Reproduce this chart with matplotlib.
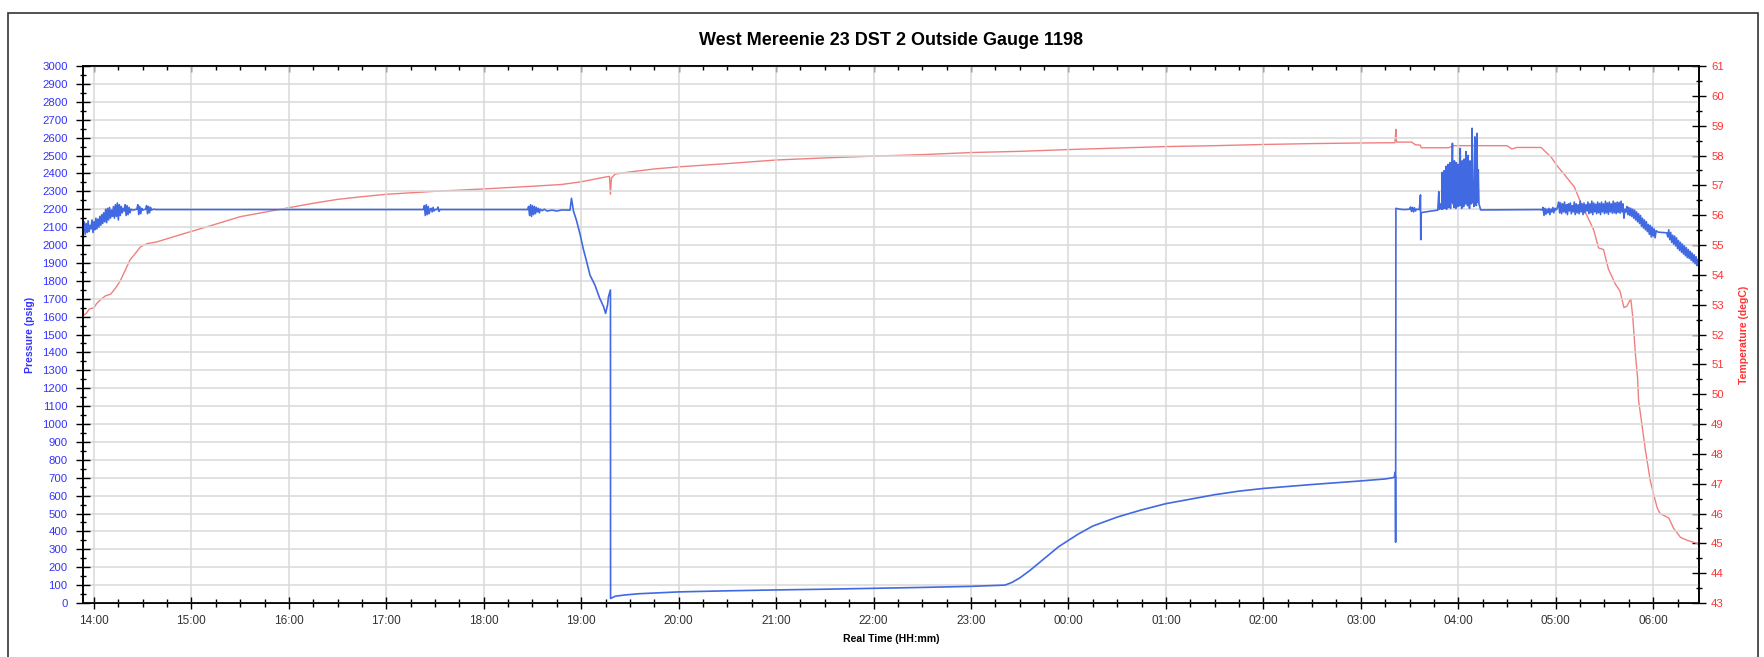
import matplotlib
matplotlib.use("Agg")
import matplotlib.pyplot as plt
from matplotlib.ticker import MultipleLocator, FixedLocator
from matplotlib.patches import Rectangle

plt.rcParams['font.family'] = ['Liberation Sans', 'DejaVu Sans']

# time axis: hours after 14:00
hour_labels = ["14:00", "15:00", "16:00", "17:00", "18:00", "19:00", "20:00", "21:00",
               "22:00", "23:00", "00:00", "01:00", "02:00", "03:00", "04:00", "05:00", "06:00"]

# pressure (psig)
press_t = [
    -0.11, -0.10, -0.09, -0.08, -0.07, -0.06, -0.05, -0.04, -0.03, -0.02, -0.01, 0.00,
    0.01, 0.02, 0.03, 0.04, 0.05, 0.06, 0.07, 0.08, 0.09, 0.10, 0.11, 0.12, 0.13, 0.14,
    0.15, 0.16, 0.17, 0.18, 0.19, 0.20, 0.21, 0.22, 0.23, 0.24, 0.25, 0.26, 0.27, 0.28,
    0.29, 0.30, 0.31, 0.32, 0.33, 0.34, 0.35, 0.36, 0.37, 0.38, 0.40, 0.44, 0.45, 0.46,
    0.47, 0.48, 0.49, 0.50, 0.53, 0.54, 0.55, 0.56, 0.57, 0.58, 0.59, 0.61, 0.64,
    3.38, 3.39, 3.40, 3.41, 3.42, 3.43, 3.44, 3.45, 3.46, 3.47, 3.48, 3.49, 3.50, 3.52,
    3.53, 3.54, 3.55,
    4.45, 4.46, 4.47, 4.48, 4.49, 4.50, 4.51, 4.52, 4.53, 4.54, 4.55, 4.56, 4.57, 4.58,
    4.60, 4.62, 4.65, 4.70, 4.75, 4.80, 4.885, 4.90, 4.92, 4.95, 4.99, 5.02, 5.06, 5.09,
    5.14, 5.19, 5.23, 5.25, 5.27, 5.28, 5.30,
    5.301, 5.32, 5.35, 5.45, 5.60, 5.80, 6.00, 6.50, 7.00, 7.50, 8.00, 8.50, 9.00, 9.20,
    9.35, 9.42, 9.50, 9.60, 9.70, 9.80, 9.90, 10.00, 10.10, 10.25, 10.50, 10.75, 11.00,
    11.25, 11.50, 11.75, 12.00, 12.50, 13.00, 13.25, 13.33, 13.345, 13.35, 13.355, 13.357,
    13.36, 13.40, 13.45, 13.50, 13.51, 13.52, 13.53, 13.54, 13.55, 13.56, 13.57, 13.60,
    13.612, 13.615, 13.62, 13.63, 13.70, 13.79, 13.80, 13.805, 13.815, 13.825,
    13.830, 13.835, 13.840, 13.845, 13.850, 13.855, 13.860, 13.865, 13.870, 13.875,
    13.880, 13.885, 13.890, 13.895, 13.900, 13.905, 13.910, 13.915, 13.920, 13.925,
    13.930, 13.940, 13.945, 13.950, 13.955, 13.960, 13.965, 13.970, 13.975, 13.980,
    13.985, 13.990, 13.995, 14.000, 14.005, 14.010, 14.015, 14.020, 14.025, 14.030,
    14.035, 14.040, 14.045, 14.050, 14.055, 14.060, 14.065, 14.070, 14.075, 14.080,
    14.085, 14.090, 14.095, 14.100, 14.105, 14.110, 14.115, 14.120, 14.125, 14.130,
    14.135, 14.142, 14.148, 14.155, 14.160, 14.170, 14.175, 14.180, 14.185, 14.192,
    14.198, 14.205, 14.212, 14.222, 14.230,
    14.84, 14.86, 14.87, 14.88, 14.89, 14.90, 14.91, 14.92, 14.93, 14.94, 14.95, 14.96,
    14.97, 14.98, 14.99, 15.00, 15.01, 15.02, 15.03,
    15.04, 15.05, 15.06, 15.07, 15.08, 15.09, 15.10, 15.11, 15.12, 15.13, 15.14, 15.15,
    15.16, 15.17, 15.18, 15.19, 15.20, 15.21, 15.22, 15.23, 15.24, 15.25, 15.26, 15.27,
    15.28, 15.29, 15.30, 15.31, 15.32, 15.33, 15.34, 15.35, 15.36, 15.37, 15.38, 15.39,
    15.40, 15.41, 15.42, 15.43, 15.44, 15.45, 15.46, 15.47, 15.48, 15.49, 15.50, 15.51,
    15.52, 15.53, 15.54, 15.55, 15.56, 15.57, 15.58, 15.59, 15.60, 15.61, 15.62, 15.63,
    15.64, 15.65, 15.66, 15.67, 15.68, 15.69, 15.70, 15.71, 15.72,
    15.73, 15.74, 15.75, 15.76, 15.77, 15.78, 15.79, 15.80, 15.81, 15.82, 15.83, 15.84,
    15.85, 15.86, 15.87, 15.88, 15.89, 15.90, 15.91, 15.92, 15.93, 15.94, 15.95, 15.96,
    15.97, 15.98, 15.99, 16.00, 16.01, 16.02, 16.03, 16.05, 16.10, 16.14, 16.15, 16.16,
    16.17, 16.18, 16.19, 16.20, 16.21, 16.22, 16.23, 16.24, 16.25, 16.26, 16.27, 16.28,
    16.29, 16.30, 16.31, 16.32, 16.33, 16.34, 16.35, 16.36, 16.37, 16.38, 16.39, 16.40,
    16.41, 16.42, 16.43, 16.44, 16.45, 16.46, 16.47,
]
press_v = [
    2080, 2130, 2060, 2120, 2070, 2135, 2075, 2110, 2090, 2140, 2070, 2130,
    2085, 2150, 2090, 2145, 2100, 2160, 2110, 2170, 2120, 2180, 2130, 2200, 2125, 2205,
    2140, 2210, 2150, 2195, 2160, 2215, 2150, 2225, 2160, 2235, 2140, 2225, 2165, 2215,
    2180, 2205, 2190, 2225, 2165, 2220, 2170, 2210, 2180, 2200, 2195, 2200, 2225, 2170,
    2215, 2175, 2205, 2195, 2200, 2220, 2175, 2215, 2180, 2210, 2195, 2200, 2198,
    2198, 2220, 2165, 2225, 2170, 2215, 2175, 2200, 2205, 2185, 2210, 2190, 2198, 2198,
    2212, 2188, 2198,
    2198, 2215, 2165, 2225, 2160, 2220, 2170, 2215, 2175, 2210, 2185, 2205, 2180, 2200,
    2192, 2200, 2190, 2195, 2190, 2196, 2195, 2261, 2190, 2140, 2056, 1981, 1898, 1832,
    1777, 1702, 1655, 1618, 1665, 1712, 1749,
    25, 30, 38, 45, 52, 57, 62, 68, 73, 77, 82, 87, 93, 97,
    100, 115, 140, 180, 225, 270, 315, 350, 385, 430, 480, 520, 555,
    580, 605, 625, 640, 662, 682, 693, 700, 705, 730, 700, 340,
    2205, 2200, 2198, 2200, 2212, 2188, 2210, 2185, 2208, 2190, 2200, 2198,
    2280, 2030, 2180, 2182, 2188, 2195, 2298, 2200, 2230, 2200,
    2205, 2405, 2200, 2390, 2210, 2415, 2205, 2380, 2215, 2440,
    2200, 2400, 2225, 2450, 2210, 2410, 2230, 2460, 2205, 2420,
    2240, 2568, 2230, 2440, 2210, 2470, 2250, 2420, 2205, 2460,
    2235, 2400, 2215, 2450, 2260, 2430, 2220, 2540, 2250, 2420,
    2205, 2470, 2240, 2400, 2215, 2480, 2260, 2440, 2230, 2522,
    2240, 2460, 2220, 2500, 2270, 2380, 2205, 2470, 2250, 2350,
    2230, 2652, 2240, 2330, 2215, 2604, 2260, 2300, 2220, 2624,
    2240, 2420, 2230, 2210, 2196,
    2198, 2196, 2210, 2165, 2205, 2172, 2200, 2180, 2205, 2170, 2200, 2185,
    2210, 2180, 2205, 2195, 2200, 2215, 2240,
    2180, 2235, 2175, 2230, 2185, 2240, 2180, 2225, 2170, 2230, 2190, 2235,
    2175, 2220, 2185, 2240, 2170, 2230, 2180, 2225, 2175, 2245, 2185, 2230,
    2170, 2235, 2180, 2225, 2190, 2240, 2175, 2230, 2180, 2245, 2170, 2235,
    2185, 2228, 2175, 2240, 2180, 2232, 2170, 2240, 2185, 2230, 2175, 2245,
    2180, 2235, 2172, 2240, 2185, 2230, 2178, 2245, 2180, 2235, 2175, 2240,
    2182, 2238, 2178, 2245, 2185, 2230, 2150, 2200, 2185,
    2215, 2170, 2210, 2165, 2205, 2160, 2200, 2150, 2195, 2140, 2185, 2130,
    2175, 2120, 2165, 2105, 2150, 2095, 2140, 2085, 2130, 2075, 2115, 2060,
    2110, 2045, 2100, 2050, 2090, 2040, 2080, 2072, 2070, 2068, 2045, 2085,
    2030, 2070, 2015, 2055, 2005, 2050, 1995, 2040, 1980, 2025, 1970, 2015,
    1960, 2005, 1950, 1995, 1940, 1985, 1930, 1975, 1925, 1965, 1915, 1955,
    1905, 1945, 1895, 1935, 1885, 1920, 1890,
]

# temperature (degC)
temp_t = [
    -0.11, -0.08, -0.05, 0.00, 0.03, 0.08, 0.12, 0.17, 0.22, 0.27, 0.32, 0.37, 0.42,
    0.48, 0.55, 0.64, 0.88, 1.22, 1.50, 1.75, 2.00, 2.25, 2.50, 2.75, 3.00, 3.50, 4.00,
    4.50, 4.80, 5.00, 5.25, 5.29, 5.30, 5.31, 5.35, 5.50, 5.75, 6.00, 6.50, 7.00, 7.50,
    8.00, 8.50, 9.00, 9.50, 10.00, 10.50, 11.00, 11.50, 12.00, 12.50, 13.00, 13.35,
    13.36, 13.365, 13.37, 13.52, 13.56, 13.61, 13.62, 13.90, 13.95, 14.50, 14.55, 14.60,
    14.85, 14.91, 14.95, 15.02, 15.08, 15.16, 15.19, 15.26, 15.34, 15.39, 15.44, 15.49,
    15.54, 15.61, 15.66, 15.70, 15.73, 15.77, 15.79, 15.82, 15.84, 15.85, 15.92, 15.97,
    16.00, 16.04, 16.07, 16.16, 16.21, 16.28, 16.35, 16.45, 16.47,
]
temp_v = [
    52.65, 52.70, 52.85, 52.90, 53.05, 53.20, 53.30, 53.35, 53.55, 53.80, 54.15, 54.50, 54.70,
    54.95, 55.05, 55.10, 55.34, 55.67, 55.95, 56.10, 56.25, 56.40, 56.53, 56.62, 56.70, 56.80, 56.88,
    56.97, 57.03, 57.12, 57.28, 57.30, 56.70, 57.25, 57.38, 57.45, 57.55, 57.62, 57.73, 57.85, 57.92,
    57.98, 58.03, 58.10, 58.14, 58.20, 58.25, 58.30, 58.33, 58.37, 58.40, 58.42, 58.43,
    58.88, 58.50, 58.45, 58.45, 58.36, 58.35, 58.26, 58.26, 58.33, 58.33, 58.22, 58.27,
    58.27, 58.08, 57.96, 57.63, 57.40, 57.07, 56.95, 56.40, 55.85, 55.50, 54.90, 54.85,
    54.20, 53.70, 53.45, 52.90, 52.95, 53.20, 52.60, 51.25, 50.55, 49.80, 48.13, 47.10,
    46.70, 46.20, 46.00, 45.85, 45.50, 45.20, 45.10, 45.00, 44.95,
]

blue = '#4169e1'
red = '#f08080'

fig = plt.figure(figsize=(17.65, 6.57), dpi=100)
ax = fig.add_axes([0.0470, 0.0822, 0.9156, 0.8173])
ax2 = ax.twinx()
ax.set_zorder(ax2.get_zorder() + 1)
ax.patch.set_visible(False)

ax.plot(press_t, press_v, color=blue, lw=1.2)
ax2.plot(temp_t, temp_v, color=red, lw=1.0)

ax.set_xlim(-0.113, 16.47)
ax.set_ylim(0, 3000)
ax2.set_ylim(43, 61)

ax.xaxis.set_major_locator(FixedLocator(range(len(hour_labels))))
ax.set_xticklabels(hour_labels)
ax.xaxis.set_minor_locator(MultipleLocator(0.25))
ax.yaxis.set_major_locator(MultipleLocator(100))
ax.yaxis.set_minor_locator(MultipleLocator(50))
ax2.yaxis.set_major_locator(MultipleLocator(1))
ax2.yaxis.set_minor_locator(MultipleLocator(0.5))

ax.grid(True, which='major', color='#d9d9d9', lw=1.1)
ax.set_axisbelow(True)

ax.tick_params(axis='x', which='major', direction='inout', length=9, width=1,
               labelsize=8.5, labelcolor='#333333', pad=4)
ax.tick_params(axis='x', which='minor', direction='inout', length=5.5, width=1)
ax.tick_params(axis='y', which='major', direction='inout', length=10, width=1,
               labelsize=8.2, labelcolor='#3333ff', pad=6)
ax.tick_params(axis='y', which='minor', direction='inout', length=4.5, width=1)
ax2.tick_params(axis='y', which='major', direction='inout', length=9.5, width=1,
                labelsize=8.2, labelcolor='#ff3333', pad=4)
ax2.tick_params(axis='y', which='minor', direction='inout', length=5, width=1)

top = ax.secondary_xaxis('top')
top.xaxis.set_major_locator(FixedLocator(range(len(hour_labels))))
top.xaxis.set_minor_locator(MultipleLocator(0.25))
top.tick_params(which='major', direction='in', length=4.5, width=1, labeltop=False)
top.tick_params(which='minor', direction='in', length=3, width=1)

for a in (ax, ax2):
    for s in a.spines.values():
        s.set_linewidth(1.2)

ax.set_title('West Mereenie 23 DST 2 Outside Gauge 1198', fontsize=13,
             fontweight='bold', pad=15)
ax.set_xlabel('Real Time (HH:mm)', fontsize=7.6, fontweight='bold', labelpad=5)
ax.set_ylabel('Pressure (psig)', fontsize=7.6, fontweight='bold', color='#3333ff', labelpad=5)
ax2.set_ylabel('Temperature (degC)', fontsize=7.6, fontweight='bold', color='#ff3333', labelpad=11)

fig.patches.append(Rectangle((8 / 1765, -0.01), 1750 / 1765, 1 - 13 / 657 + 0.01,
                             transform=fig.transFigure, fill=False,
                             edgecolor='#333333', lw=1.2))

fig.savefig('out.png', dpi=100)
